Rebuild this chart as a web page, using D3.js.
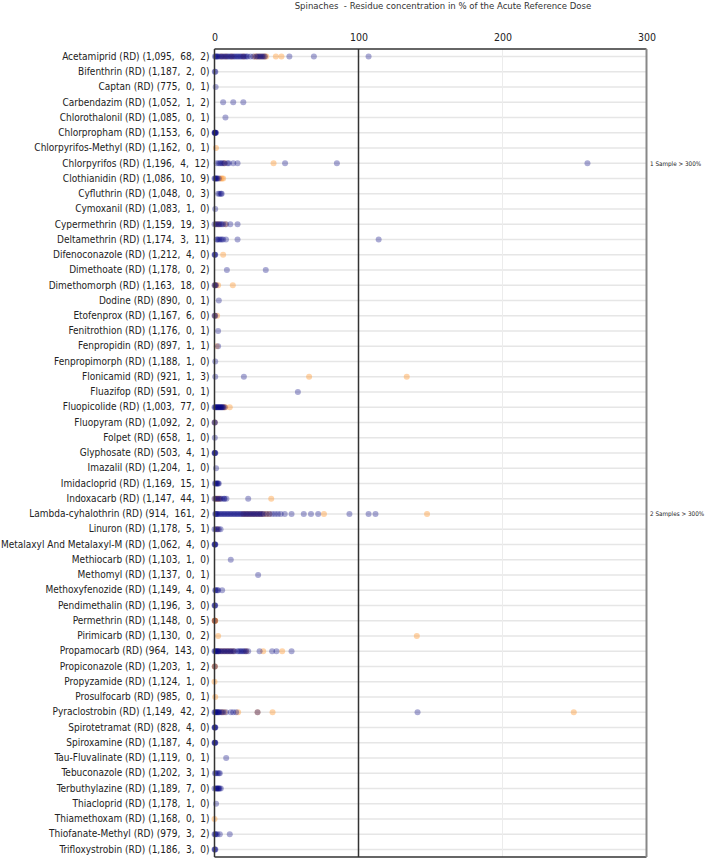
<!DOCTYPE html>
<html>
<head>
<meta charset="utf-8">
<script src="https://cdn.jsdelivr.net/npm/d3@7"></script>
<style>
  html, body { margin: 0; padding: 0; background: #fff; }
  svg text { white-space: pre; }
</style>
</head>
<body>
<svg id="chart" width="709" height="858"></svg>
<script>
const titleText = "Spinaches  - Residue concentration in % of the Acute Reference Dose";

const categories = [
  "Acetamiprid (RD) (1,095,  68,  2)",
  "Bifenthrin (RD) (1,187,  2,  0)",
  "Captan (RD) (775,  0,  1)",
  "Carbendazim (RD) (1,052,  1,  2)",
  "Chlorothalonil (RD) (1,085,  0,  1)",
  "Chlorpropham (RD) (1,153,  6,  0)",
  "Chlorpyrifos-Methyl (RD) (1,162,  0,  1)",
  "Chlorpyrifos (RD) (1,196,  4,  12)",
  "Clothianidin (RD) (1,086,  10,  9)",
  "Cyfluthrin (RD) (1,048,  0,  3)",
  "Cymoxanil (RD) (1,083,  1,  0)",
  "Cypermethrin (RD) (1,159,  19,  3)",
  "Deltamethrin (RD) (1,174,  3,  11)",
  "Difenoconazole (RD) (1,212,  4,  0)",
  "Dimethoate (RD) (1,178,  0,  2)",
  "Dimethomorph (RD) (1,163,  18,  0)",
  "Dodine (RD) (890,  0,  1)",
  "Etofenprox (RD) (1,167,  6,  0)",
  "Fenitrothion (RD) (1,176,  0,  1)",
  "Fenpropidin (RD) (897,  1,  1)",
  "Fenpropimorph (RD) (1,188,  1,  0)",
  "Flonicamid (RD) (921,  1,  3)",
  "Fluazifop (RD) (591,  0,  1)",
  "Fluopicolide (RD) (1,003,  77,  0)",
  "Fluopyram (RD) (1,092,  2,  0)",
  "Folpet (RD) (658,  1,  0)",
  "Glyphosate (RD) (503,  4,  1)",
  "Imazalil (RD) (1,204,  1,  0)",
  "Imidacloprid (RD) (1,169,  15,  1)",
  "Indoxacarb (RD) (1,147,  44,  1)",
  "Lambda-cyhalothrin (RD) (914,  161,  2)",
  "Linuron (RD) (1,178,  5,  1)",
  "Metalaxyl And Metalaxyl-M (RD) (1,062,  4,  0)",
  "Methiocarb (RD) (1,103,  1,  0)",
  "Methomyl (RD) (1,137,  0,  1)",
  "Methoxyfenozide (RD) (1,149,  4,  0)",
  "Pendimethalin (RD) (1,196,  3,  0)",
  "Permethrin (RD) (1,148,  0,  5)",
  "Pirimicarb (RD) (1,130,  0,  2)",
  "Propamocarb (RD) (964,  143,  0)",
  "Propiconazole (RD) (1,203,  1,  2)",
  "Propyzamide (RD) (1,124,  1,  0)",
  "Prosulfocarb (RD) (985,  0,  1)",
  "Pyraclostrobin (RD) (1,149,  42,  2)",
  "Spirotetramat (RD) (828,  4,  0)",
  "Spiroxamine (RD) (1,187,  4,  0)",
  "Tau-Fluvalinate (RD) (1,119,  0,  1)",
  "Tebuconazole (RD) (1,202,  3,  1)",
  "Terbuthylazine (RD) (1,189,  7,  0)",
  "Thiacloprid (RD) (1,178,  1,  0)",
  "Thiamethoxam (RD) (1,168,  0,  1)",
  "Thiofanate-Methyl (RD) (979,  3,  2)",
  "Trifloxystrobin (RD) (1,186,  3,  0)"
];

// blue points (% ARfD), one list per category
const blueValues = [
  [0.3,1,1.5,2,3,4,5,6,7,8,9,10,11,12,13,14,15,16,17,18,19,20,21,22,23,25,27,29,30,31,32,33,34,35,52,69,107],
  [0.2,0.6],
  [0.8],
  [6,13,20],
  [7.6],
  [0,0.3,0.5,0.8,1,0.2],
  [],
  [1.5,3,4,5,6,7,9,10,13,16,49,85,259],
  [0,0.5,1,1.5,2,3],
  [2.5,3.5,4.5,5],
  [0.5],
  [0,1,2,3,4,5,6,8,11,16],
  [1.5,2,3,4,5,6,8,16,114],
  [0,0.3,0.5],
  [8.6,35.6],
  [0,0.5,1],
  [3],
  [0,0.5],
  [2.5],
  [2.5],
  [0.5],
  [0.5,20.4],
  [57.9],
  [0,0.5,1,1.5,2,2.5,3,3.5,4,4.5,5,5.5,6,7],
  [0,0.3],
  [0.2],
  [0,0.3,0.6,0.2],
  [1.1],
  [0.3,1,1.5,2,2.5,3],
  [0,1,2,3,4,5,6.5,7,8.3,23.4],
  [0.5,1,1.5,2,3,4,5,6,7,8,9,10,11,12,13,14,15,16,17,18,19,20,21,22,23,24,25,26,27,28,29,30,31,32,33,34,36,38,40,42,44,46,48.8,53.5,62,67,72,93.7,107,111.8],
  [0,1,2,3,4.2],
  [0,0.2,0.4,0.6],
  [11.3],
  [30.3],
  [0.5,1,2,2.5,5.3],
  [0,0.3,0.5],
  [0.2],
  [],
  [0,0.5,1,1.5,2,2.5,3,4,5,6,7,8,9,10,11,12,13,14,16,17,18,19,20,21,22,23.4,31.3,40,43,53.5],
  [0.2],
  [],
  [],
  [0,0.5,1,1.5,2,2.5,3,3.7,5,6,8,11.3,13,15,29.9,141],
  [0,0.2,0.4,0.6],
  [0,0.2,0.4,0.6],
  [8.1],
  [0.3,1,2,3,3.7],
  [0,1,1.5,2,2.5,3,3.5,4.4],
  [1.1],
  [],
  [0,0.5,1,2,3.7,10.6],
  [0,0.3,0.6]
];

// orange points (% ARfD), one list per category
const orangeValues = [
  [5,8,12,20,28,29,31,33,35,36,42.6,46.5],
  [], [], [], [], [],
  [1],
  [7,41],
  [4,5,6],
  [], [],
  [1,3,7.5],
  [],
  [6],
  [],
  [0.3,1,2.5,12.7],
  [],
  [0.3,1.8],
  [],
  [1.5],
  [],
  [65.7,133.5],
  [],
  [6.5,7.5,10.6],
  [0.2],
  [], [], [], [],
  [0.5,1.5,2.5,3.5,39.4],
  [20,22,24,26,28,30,32,34,36,38,76,147.6],
  [2],
  [], [], [], [], [],
  [0.1,0.3,0.4,0.2,0.5],
  [2.5,140.5],
  [3,5,7,9,11,13,22,33.8,47],
  [0.1,0.3],
  [0],
  [0.5],
  [5,7,16.4,29.9,40.3,249.5],
  [], [], [], [], [], [],
  [0],
  [],
  []
];

const xTicks = [0, 100, 200, 300];
const notes = [
  { category: "Chlorpyrifos (RD) (1,196,  4,  12)", text: "1 Sample > 300%" },
  { category: "Lambda-cyhalothrin (RD) (914,  161,  2)", text: "2 Samples > 300%" }
];

const svg = d3.select("#chart");
const plotL = 214.5, plotR = 646.5, plotT = 49, plotB = 857;
const font = "'DejaVu Sans Condensed', 'Liberation Sans', Arial, sans-serif";

const x = d3.scaleLinear().domain([0, 300]).range([plotL, plotR]);
const y = d3.scaleBand().domain(categories).range([plotT, plotB]);
const yc = c => y(c) + y.bandwidth() / 2;

// title
svg.append("text")
  .attr("x", 443).attr("y", 9)
  .attr("text-anchor", "middle")
  .attr("font-family", font).attr("font-size", 9.5).attr("fill", "#333")
  .text(titleText);

// horizontal gridlines
svg.append("g").selectAll("line").data(categories).join("line")
  .attr("x1", plotL).attr("x2", plotR)
  .attr("y1", d => yc(d)).attr("y2", d => yc(d))
  .attr("stroke", "#e6e6e6").attr("stroke-width", 1.5);

// vertical line at 200 (faint)
svg.append("line")
  .attr("x1", x(200)).attr("x2", x(200)).attr("y1", plotT).attr("y2", plotB)
  .attr("stroke", "#ececec").attr("stroke-width", 1);

// x axis at top
const xAxis = d3.axisTop(x).tickValues(xTicks).tickSize(0).tickPadding(8);
const gx = svg.append("g").attr("transform", `translate(0,${plotT})`).call(xAxis);
gx.select(".domain").remove();
gx.selectAll("text").attr("font-family", font).attr("font-size", 10.5).attr("fill", "#222");

// y axis labels
const yAxis = d3.axisLeft(y).tickSize(0).tickPadding(5);
const gy = svg.append("g").attr("transform", `translate(${plotL},0)`).call(yAxis);
gy.select(".domain").remove();
gy.selectAll("text").attr("font-family", font).attr("font-size", 10).attr("fill", "#222");

// points
const pts = [];
categories.forEach((c, i) => {
  orangeValues[i].forEach(v => { if (v <= 300) pts.push({ c, v, s: "o" }); });
});
categories.forEach((c, i) => {
  blueValues[i].forEach(v => { if (v <= 300) pts.push({ c, v, s: "b" }); });
});
svg.append("g").selectAll("circle").data(pts).join("circle")
  .attr("cx", d => x(d.v)).attr("cy", d => yc(d.c)).attr("r", 3)
  .attr("fill", d => d.s === "b" ? "#000080" : "#ff9933")
  .attr("fill-opacity", d => d.s === "b" ? 0.33 : 0.42);

// frame
svg.append("line").attr("x1", plotL).attr("x2", plotR).attr("y1", plotT).attr("y2", plotT)
  .attr("stroke", "#333").attr("stroke-width", 1.5);
svg.append("line").attr("x1", plotL).attr("x2", plotR).attr("y1", plotB).attr("y2", plotB)
  .attr("stroke", "#333").attr("stroke-width", 1.5);
svg.append("line").attr("x1", plotL).attr("x2", plotL).attr("y1", plotT).attr("y2", plotB)
  .attr("stroke", "#333").attr("stroke-width", 1.5);
svg.append("line").attr("x1", plotR).attr("x2", plotR).attr("y1", plotT).attr("y2", plotB)
  .attr("stroke", "#888").attr("stroke-width", 2);
svg.append("line").attr("x1", x(100)).attr("x2", x(100)).attr("y1", plotT).attr("y2", plotB)
  .attr("stroke", "#333").attr("stroke-width", 1.5);

// notes
svg.append("g").selectAll("text").data(notes).join("text")
  .attr("x", plotR + 3.5).attr("y", d => yc(d.category)).attr("dy", "0.35em")
  .attr("font-family", font).attr("font-size", 6.3).attr("fill", "#222")
  .text(d => d.text);
</script>
</body>
</html>
